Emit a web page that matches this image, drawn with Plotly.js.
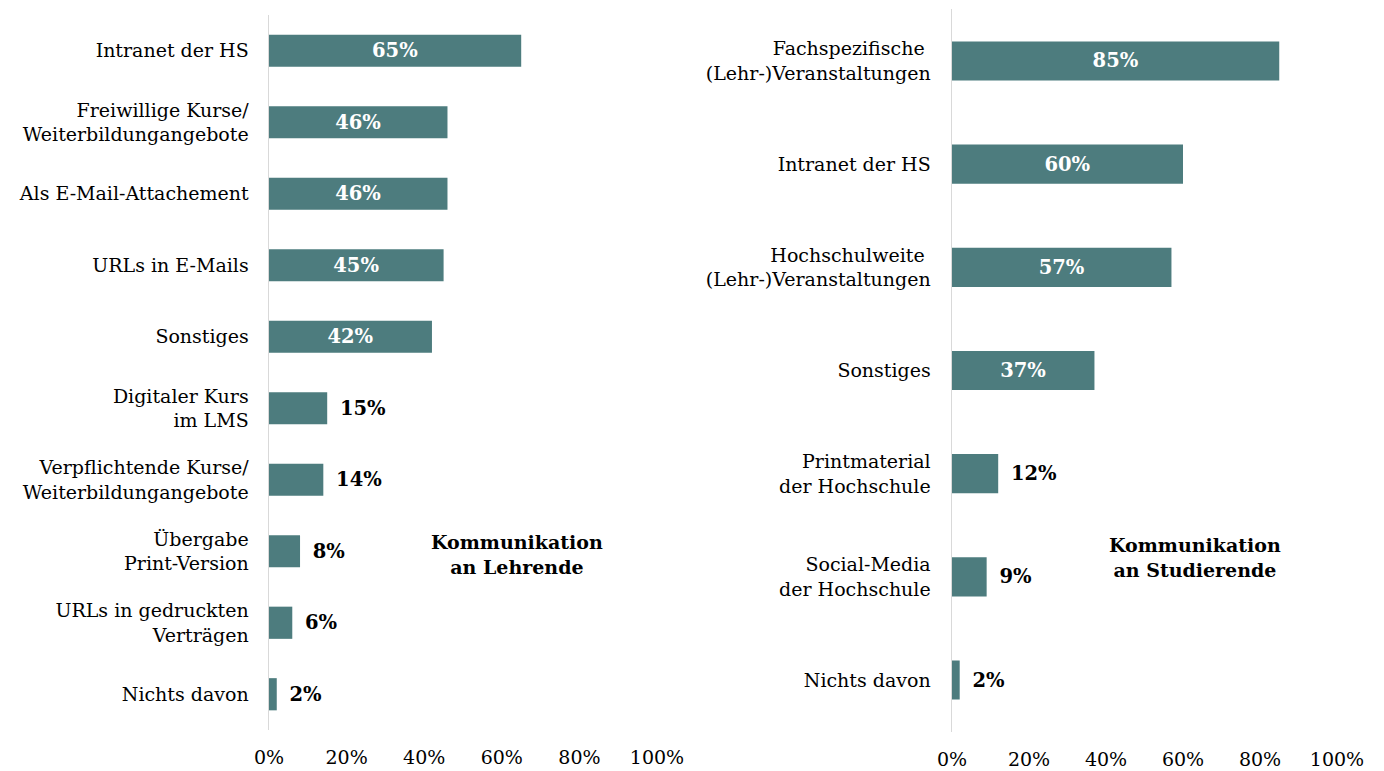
<!DOCTYPE html>
<html>
<head>
<meta charset="utf-8">
<script src="https://cdn.plot.ly/plotly-3.0.1.min.js"></script>
<style>html,body{margin:0;padding:0;background:#fff;}#chart{width:1384px;height:771px;}</style>
</head>
<body>
<div id="chart"></div>
<script>
const lehrendeCategories = ["Intranet der HS", "Freiwillige Kurse/<br>Weiterbildungangebote", "Als E-Mail-Attachement", "URLs in E-Mails", "Sonstiges", "Digitaler Kurs<br>im LMS", "Verpflichtende Kurse/<br>Weiterbildungangebote", "Übergabe<br>Print-Version", "URLs in gedruckten<br>Verträgen", "Nichts davon"];
const lehrendeValues = [65, 46, 46, 45, 42, 15, 14, 8, 6, 2];
const studierendeCategories = ["Fachspezifische <br>(Lehr-)Veranstaltungen", "Intranet der HS", "Hochschulweite <br>(Lehr-)Veranstaltungen", "Sonstiges", "Printmaterial<br>der Hochschule", "Social-Media<br>der Hochschule", "Nichts davon"];
const studierendeValues = [85, 60, 57, 37, 12, 9, 2];
const xTickValues = [0, 20, 40, 60, 80, 100];
const xTickLabels = ["0%", "20%", "40%", "60%", "80%", "100%"];
const panelTitles = ["Kommunikation<br>an Lehrende", "Kommunikation<br>an Studierende"];

const FONT = "DejaVu Serif, serif";
const BAR = "#4d7c7e";

function barTrace(cats, vals, xa, ya) {
  return {
    type: "bar", orientation: "h", y: cats, x: vals, xaxis: xa, yaxis: ya,
    marker: {color: BAR},
    text: vals.map(v => (v >= 30 ? "" : "\u2002") + v + "%"),
    textposition: vals.map(v => v >= 30 ? "inside" : "outside"),
    insidetextanchor: "middle",
    insidetextfont: {family: FONT, size: 19.5, color: "#ffffff", weight: "bold"},
    outsidetextfont: {family: FONT, size: 19.5, color: "#000000", weight: "bold"},
    textangle: 0,
    cliponaxis: false,
    hoverinfo: "skip"
  };
}

const t1 = barTrace(lehrendeCategories, lehrendeValues, "x", "y");
t1.width = 0.45;
const t2 = barTrace(studierendeCategories, studierendeValues, "x2", "y2");
t2.width = 0.38;

const xCommon = {
  range: [0, 100], tickvals: xTickValues, ticktext: xTickLabels,
  showgrid: false, zeroline: false, showline: false, ticks: "",
  ticklabelstandoff: 14,
  tickfont: {family: FONT, size: 19, color: "#000"}, fixedrange: true
};
const yCommon = {
  autorange: "reversed", showgrid: false, zeroline: false,
  showline: true, linecolor: "#d9d9d9", linewidth: 1.5, ticks: "",
  tickfont: {family: FONT, size: 19, color: "#000"}, fixedrange: true
};

const layout = {
  width: 1384, height: 771,
  margin: {l: 0, r: 0, t: 0, b: 0},
  paper_bgcolor: "#fff", plot_bgcolor: "#fff",
  showlegend: false,
  font: {family: FONT, color: "#000"},
  xaxis: Object.assign({}, xCommon, {domain: [269/1384, 657/1384], anchor: "y"}),
  yaxis: Object.assign({}, yCommon, {domain: [1 - 730/771, 1 - 15/771], anchor: "x", ticklabelstandoff: 15}),
  xaxis2: Object.assign({}, xCommon, {domain: [952/1384, 1337/1384], anchor: "y2"}),
  yaxis2: Object.assign({}, yCommon, {domain: [1 - 731.6/771, 1 - 9.4/771], anchor: "x2", ticklabelstandoff: 16}),
  annotations: [
    {text: panelTitles[0], xref: "paper", yref: "paper", x: 517/1384, y: 1 - 554/771, showarrow: false,
     xanchor: "center", yanchor: "middle",
     font: {family: FONT, size: 19, color: "#000", weight: "bold"}, align: "center"},
    {text: panelTitles[1], xref: "paper", yref: "paper", x: 1195/1384, y: 1 - 557/771, showarrow: false,
     xanchor: "center", yanchor: "middle",
     font: {family: FONT, size: 19, color: "#000", weight: "bold"}, align: "center"}
  ]
};

Plotly.newPlot("chart", [t1, t2], layout, {displayModeBar: false, staticPlot: true});
</script>
</body>
</html>
